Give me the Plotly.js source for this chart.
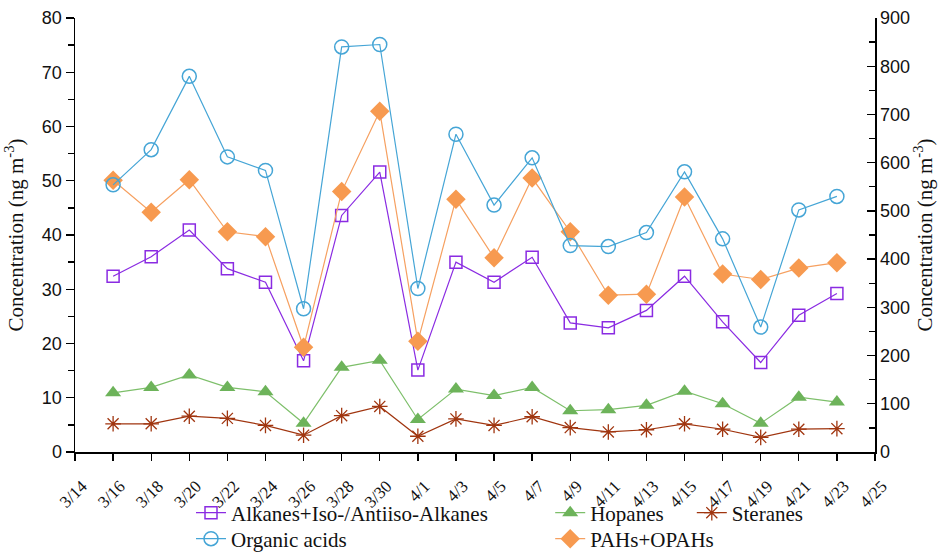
<!DOCTYPE html>
<html>
<head>
<meta charset="utf-8">
<script src="https://cdn.plot.ly/plotly-3.0.1.min.js"></script>
<style>html,body{margin:0;padding:0;background:#fff;}#chart{width:948px;height:552px;}</style>
</head>
<body>
<div id="chart"></div>
<script>
const dates = ["2021-03-16","2021-03-18","2021-03-20","2021-03-22","2021-03-24","2021-03-26","2021-03-28","2021-03-30",
  "2021-04-01","2021-04-03","2021-04-05","2021-04-07","2021-04-09","2021-04-11","2021-04-13","2021-04-15","2021-04-17","2021-04-19","2021-04-21","2021-04-23"];
const alkanes = [32.4,36.0,40.9,33.8,31.3,16.8,43.6,51.6,15.1,35.0,31.3,35.9,23.8,22.9,26.1,32.4,24.0,16.5,25.2,29.2];
const hopanes = [10.9,11.9,14.2,11.9,11.1,5.3,15.6,16.9,6.0,11.6,10.4,11.9,7.6,7.8,8.6,11.2,8.9,5.3,10.1,9.2];
const steranes = [5.2,5.2,6.6,6.2,4.9,3.1,6.7,8.4,2.9,6.1,4.9,6.5,4.5,3.7,4.1,5.2,4.2,2.7,4.2,4.3];
const pahs = [50.1,44.2,50.2,40.6,39.7,19.3,48.0,62.8,20.4,46.6,35.8,50.5,40.6,28.9,29.1,47.0,32.8,31.8,33.9,34.9];
const organicAcids = [554,627,779,612,584,297,840,845,339,659,512,610,428,426,455,581,442,259,502,530];

const serif = '"Liberation Serif", "Times New Roman", serif';
const sans = '"Liberation Sans", Arial, sans-serif';

const traces = [
  {name:"Alkanes+Iso-/Antiiso-Alkanes", x:dates, y:alkanes, mode:"lines+markers", legend:"legend",
   line:{color:"#8A2BE2",width:1.2}, marker:{symbol:"square-open",size:12,color:"#8A2BE2",line:{width:1.5}}},
  {name:"Hopanes", x:dates, y:hopanes, mode:"lines+markers", legend:"legend2",
   line:{color:"#7DBF6A",width:1.2}, marker:{symbol:"triangle-up",size:14,color:"#6DB35A"}},
  {name:"Steranes", x:dates, y:steranes, mode:"lines+markers", legend:"legend3",
   line:{color:"#A0350F",width:1.2}, marker:{symbol:"asterisk-open",size:13,color:"#A0350F",line:{width:1.3,color:"#A0350F"}}},
  {name:"Organic acids", x:dates, y:organicAcids, yaxis:"y2", mode:"lines+markers", legend:"legend4",
   line:{color:"#45A5D6",width:1.2}, marker:{symbol:"circle-open",size:14,color:"#45A5D6",line:{width:1.5}}},
  {name:"PAHs+OPAHs", x:dates, y:pahs, mode:"lines+markers", legend:"legend5",
   line:{color:"#F6A060",width:1.2}, marker:{symbol:"diamond",size:15,color:"#F79A50"}}
];

function leg(x, y){
  return {x:x, y:y, xanchor:"left", yanchor:"middle", orientation:"h", bgcolor:"rgba(0,0,0,0)",
          font:{family:serif,size:21,color:"#111"}, itemwidth:30};
}

const layout = {
  width:948, height:552,
  margin:{l:75, r:73, t:18, b:100, autoexpand:false},
  paper_bgcolor:"#fff", plot_bgcolor:"#fff",
  showlegend:true,
  xaxis:{type:"date", range:["2021-03-14","2021-04-25"], tick0:"2021-03-14", dtick:2*86400000,
    tickformat:"%-m/%-d", tickangle:-45, ticks:"outside", ticklen:7, tickwidth:1.3, tickcolor:"#000",
    ticklabelstandoff:9, ticklabelshift:7,
    showline:true, linecolor:"#000", linewidth:1.5, showgrid:false, zeroline:false, automargin:false,
    tickfont:{family:serif,size:17,color:"#111"}},
  yaxis:{range:[0,80], dtick:10, ticks:"outside", ticklen:8, tickwidth:1.3, tickcolor:"#000",
    minor:{dtick:5, ticks:"outside", ticklen:6, tickwidth:1.3, tickcolor:"#000"},
    showline:true, linecolor:"#000", linewidth:1.5, showgrid:false, zeroline:false, automargin:false,
    tickfont:{family:sans,size:18,color:"#111"},
    title:{text:"Concentration (ng m<sup>-3</sup>)", font:{family:serif,size:21,color:"#111"}, standoff:12}},
  yaxis2:{range:[0,900], dtick:100, overlaying:"y", side:"right", ticks:"inside", ticklen:8, tickwidth:1.3, tickcolor:"#000",
    minor:{dtick:50, ticks:"inside", ticklen:6, tickwidth:1.3, tickcolor:"#000"},
    showline:true, linecolor:"#000", linewidth:1.5, showgrid:false, zeroline:false, automargin:false,
    tickfont:{family:sans,size:18,color:"#111"},
    title:{text:"Concentration (ng m<sup>-3</sup>)", font:{family:serif,size:21,color:"#111"}, standoff:8}},
  legend: leg(0.145, -0.1406),
  legend2: leg(0.594, -0.1406),
  legend3: leg(0.771, -0.1406),
  legend4: leg(0.145, -0.2005),
  legend5: leg(0.594, -0.2005)
};

Plotly.newPlot("chart", traces, layout, {displayModeBar:false, staticPlot:true});
</script>
</body>
</html>
